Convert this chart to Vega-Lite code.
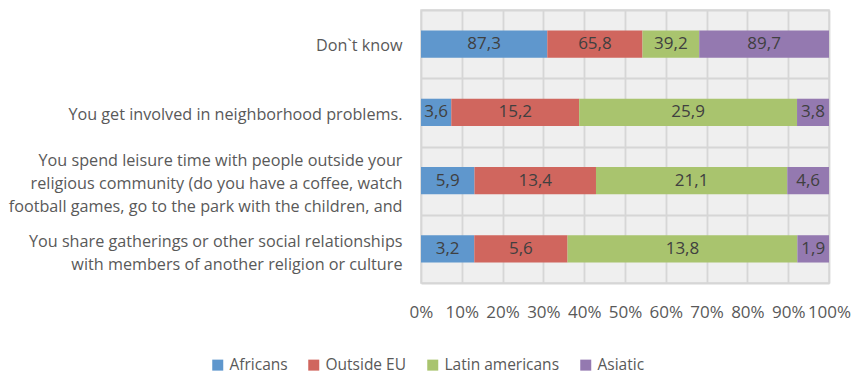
{
  "$schema": "https://vega.github.io/schema/vega-lite/v6.json",
  "width": 408,
  "height": 273,
  "autosize": {"type": "none"},
  "padding": {"left": 421, "top": 10, "right": 22, "bottom": 92},
  "config": {
    "locale": {"number": {"decimal": ",", "thousands": ".", "grouping": [3], "currency": ["", "€"]}},
    "view": {"fill": "#efefef", "stroke": "#d9d9d9", "strokeWidth": 1.5},
    "font": "Open Sans",
    "axis": {"labelFont": "Open Sans", "labelColor": "#595959", "domain": false, "ticks": false, "gridColor": "#d6d6d6", "gridWidth": 1.8, "gridOpacity": 1},
    "legend": {"labelFont": "Open Sans"}
  },
  "data": {
    "values": [
      {"q": "Don`t know", "s": "Africans", "i": 1, "v": 87.3},
      {"q": "Don`t know", "s": "Outside EU", "i": 2, "v": 65.8},
      {"q": "Don`t know", "s": "Latin americans", "i": 3, "v": 39.2},
      {"q": "Don`t know", "s": "Asiatic", "i": 4, "v": 89.7},
      {"q": "You get involved in neighborhood problems.", "s": "Africans", "i": 1, "v": 3.6},
      {"q": "You get involved in neighborhood problems.", "s": "Outside EU", "i": 2, "v": 15.2},
      {"q": "You get involved in neighborhood problems.", "s": "Latin americans", "i": 3, "v": 25.9},
      {"q": "You get involved in neighborhood problems.", "s": "Asiatic", "i": 4, "v": 3.8},
      {"q": "You spend leisure time with people outside your|religious community (do you have a coffee, watch|football games, go to the park with the children, and", "s": "Africans", "i": 1, "v": 5.9},
      {"q": "You spend leisure time with people outside your|religious community (do you have a coffee, watch|football games, go to the park with the children, and", "s": "Outside EU", "i": 2, "v": 13.4},
      {"q": "You spend leisure time with people outside your|religious community (do you have a coffee, watch|football games, go to the park with the children, and", "s": "Latin americans", "i": 3, "v": 21.1},
      {"q": "You spend leisure time with people outside your|religious community (do you have a coffee, watch|football games, go to the park with the children, and", "s": "Asiatic", "i": 4, "v": 4.6},
      {"q": "You share gatherings or other social relationships|with members of another religion or culture", "s": "Africans", "i": 1, "v": 3.2},
      {"q": "You share gatherings or other social relationships|with members of another religion or culture", "s": "Outside EU", "i": 2, "v": 5.6},
      {"q": "You share gatherings or other social relationships|with members of another religion or culture", "s": "Latin americans", "i": 3, "v": 13.8},
      {"q": "You share gatherings or other social relationships|with members of another religion or culture", "s": "Asiatic", "i": 4, "v": 1.9}
    ]
  },
  "encoding": {
    "y": {
      "field": "q", "type": "nominal", "sort": null,
      "scale": {"paddingInner": 0, "paddingOuter": 0},
      "axis": {
        "title": null, "labelExpr": "split(datum.label, '|')", "labelPadding": 19, "labelLineHeight": 23, "grid": true, "tickBand": "extent", "labelLimit": 500, "labelFontSize": 16.2,
        "labelOffset": {"condition": [
          {"test": "indexof('' + datum.value, 'leisure') >= 0", "value": -20},
          {"test": "indexof('' + datum.value, 'gatherings') >= 0", "value": -7},
          {"test": "indexof('' + datum.value, 'involved') >= 0", "value": 2}
        ], "value": 1}
      }
    },
    "x": {
      "field": "v", "type": "quantitative", "stack": "normalize",
      "scale": {"domain": [0, 1]},
      "axis": {"title": null, "format": ".0%", "values": [0, 0.1, 0.2, 0.3, 0.4, 0.5, 0.6, 0.7, 0.8, 0.9, 1], "labelPadding": 21, "grid": true, "labelFlush": false, "labelOverlap": false, "labelFontSize": 17}
    },
    "order": {"field": "i", "type": "quantitative"}
  },
  "layer": [
    {
      "mark": {"type": "bar", "height": {"band": 0.4}},
      "encoding": {
        "color": {
          "field": "s", "type": "nominal",
          "scale": {"domain": ["Africans", "Outside EU", "Latin americans", "Asiatic"], "range": ["#5f97cd", "#d0665e", "#a9c46e", "#9479b0"]},
          "legend": {"orient": "none", "legendX": -211, "legendY": 347, "direction": "horizontal", "title": null, "symbolType": "square", "symbolSize": 121, "symbolStrokeWidth": 0, "labelFontSize": 15.5, "labelColor": "#595959", "columnPadding": 18, "labelOffset": 4}
        }
      }
    },
    {
      "mark": {"type": "text", "fontSize": 17, "color": "#404040"},
      "encoding": {
        "x": {"field": "v", "type": "quantitative", "stack": "normalize", "bandPosition": 0.5},
        "detail": {"field": "s"},
        "text": {"field": "v", "type": "quantitative", "format": ".1f"}
      }
    }
  ]
}
